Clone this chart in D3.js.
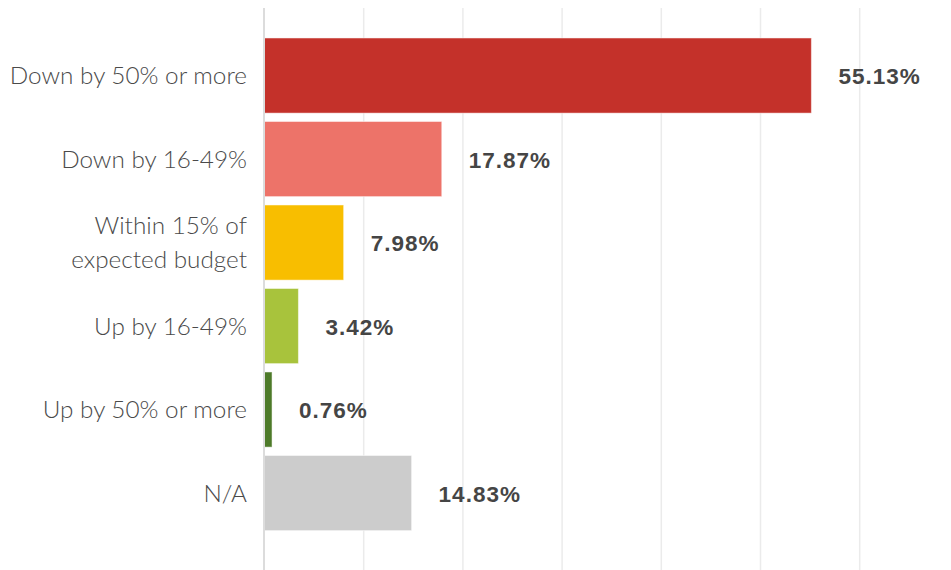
<!DOCTYPE html>
<html><head><meta charset="utf-8">
<script src="https://cdn.jsdelivr.net/npm/d3@7"></script>
<style>body{margin:0;background:#fff}</style>
</head><body><svg id="c" width="951" height="570"></svg>
<script>
const categories = [["Down by 50% or more"],["Down by 16-49%"],["Within 15% of","expected budget"],["Up by 16-49%"],["Up by 50% or more"],["N/A"]];
const values = [55.13, 17.87, 7.98, 3.42, 0.76, 14.83];
const colors = ["#C4312A","#ED7369","#F8BE00","#A8C33C","#4D7A29","#CCCCCC"];
const ticks = [10,20,30,40,50,60];

const svg = d3.select("#c");
const keys = categories.map((d,i)=>i);
const x = d3.scaleLinear().domain([0,70]).range([264.5,958.9]);
const y = d3.scaleBand().domain(keys).range([33.8,534.8]).paddingInner(0.1).paddingOuter(0.05);

svg.append("g").selectAll("line").data(ticks).join("line")
  .attr("x1",d=>x(d)).attr("x2",d=>x(d)).attr("y1",8).attr("y2",570)
  .attr("stroke","#ebebeb").attr("stroke-width",1.5);

svg.append("g").selectAll("rect").data(values).join("rect")
  .attr("x",x(0)).attr("y",(d,i)=>y(i)).attr("width",d=>x(d)-x(0)).attr("height",y.bandwidth())
  .attr("fill",(d,i)=>colors[i]).attr("stroke","rgba(255,255,255,0.5)").attr("stroke-width",1);

svg.append("line").attr("x1",x(0)-0.5).attr("x2",x(0)-0.5).attr("y1",8).attr("y2",570)
  .attr("stroke","#dcdcdc").attr("stroke-width",2);

svg.append("g").selectAll("text").data(values).join("text")
  .attr("x",d=>x(d)+27).attr("y",(d,i)=>y(i)+y.bandwidth()/2+8.5)
  .attr("font-family","'Liberation Sans', Arial, sans-serif").attr("font-weight","bold")
  .attr("font-size",22.5).attr("fill","#454545").attr("letter-spacing","1")
  .text(d=>d.toFixed(2)+"%");

const lab = svg.append("g").selectAll("text").data(categories).join("text")
  .attr("text-anchor","end").attr("x",247)
  .attr("font-family","Lato, sans-serif").attr("font-weight",300)
  .attr("font-size",24.3).attr("fill","#4a4a4a");
lab.each(function(lines,i){
  const t=d3.select(this);
  const cy=y(i)+y.bandwidth()/2;
  const lh=34;
  lines.forEach((s,j)=>{
    t.append("tspan").attr("x",247).attr("y",cy+8.5+(j-(lines.length-1)/2)*lh).text(s);
  });
});
</script></body></html>
